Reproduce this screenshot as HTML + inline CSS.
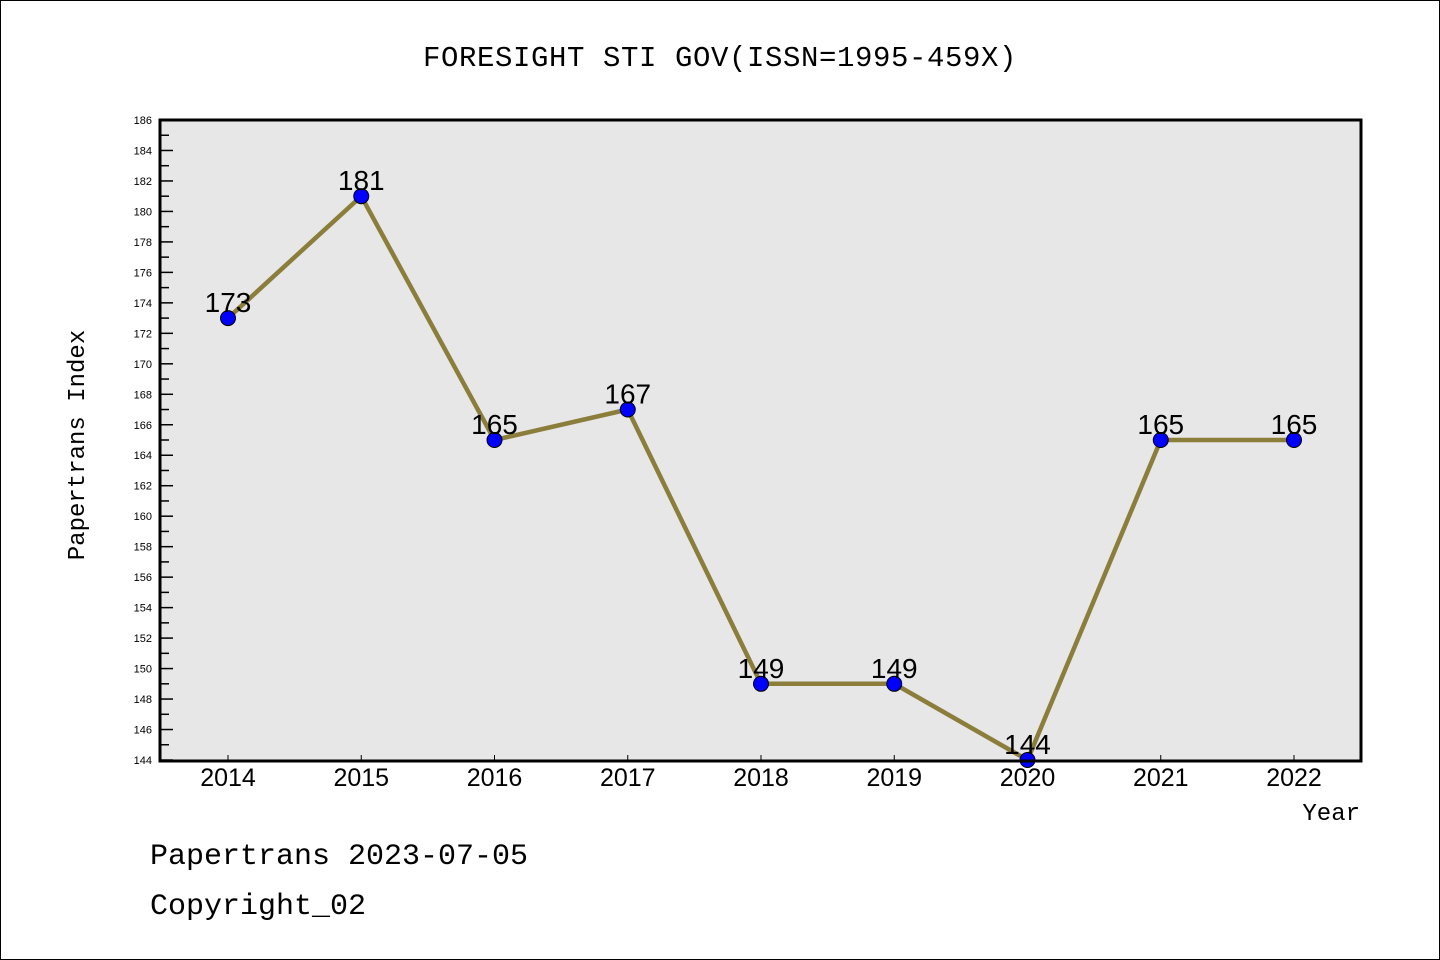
<!DOCTYPE html>
<html><head><meta charset="utf-8"><style>
html,body{margin:0;padding:0;background:#fff}
svg{display:block}
text{font-family:"Liberation Mono","DejaVu Sans Mono",monospace}
.sans{font-family:"Liberation Sans","DejaVu Sans",sans-serif}
</style></head><body>
<svg id="chart" width="1440" height="960">
<rect x="0.5" y="0.5" width="1439" height="959" fill="#fff" stroke="#000"/>
<text x="720" y="66" text-anchor="middle" font-size="29" letter-spacing="0.6">FORESIGHT STI GOV(ISSN=1995-459X)</text>
<rect x="160" y="120" width="1201" height="641" fill="#e7e7e7"/>
<g id="yaxis"></g>
<g id="xaxis"></g>
<g id="series"></g>
<rect x="160" y="120" width="1201" height="641" fill="none" stroke="#000" stroke-width="3"/>
<text x="84" y="445" text-anchor="middle" font-size="24" transform="rotate(-90 84 445)">Papertrans Index</text>
<text x="1360" y="820" text-anchor="end" font-size="24">Year</text>
<text x="150" y="864" font-size="30">Papertrans 2023-07-05</text>
<text x="150" y="914" font-size="30">Copyright_02</text>
</svg>
<script>
const years = ["2014","2015","2016","2017","2018","2019","2020","2021","2022"];
const values = [173,181,165,167,149,149,144,165,165];
const yMin = 144, yMax = 186;
const NS="http://www.w3.org/2000/svg";
const x0=228, xStep=(1294-228)/8;
const xs=i=>x0+i*xStep;
const ys=v=>760-(v-yMin)*(640/(yMax-yMin));
function mk(tag,attrs,parent){const e=document.createElementNS(NS,tag);for(const k in attrs)e.setAttribute(k,attrs[k]);parent.appendChild(e);return e;}
const ya=document.getElementById('yaxis');
for(let v=yMin;v<=yMax;v++){
  const y=ys(v);
  const major=(v%2===0);
  const t=mk('line',{x1:160,x2:major?173:169,y1:y,y2:y,stroke:'#000','stroke-width':1.5},ya);
  
  
  if(major){
    const l=mk('text',{x:152,y:y+4,'text-anchor':'end','font-size':11,'class':'sans'},ya);
    l.textContent=v;
    
    
  }
}
const xa=document.getElementById('xaxis');
years.forEach((yr,i)=>{
  const x=xs(i);
  const t=mk('line',{x1:x,x2:x,y1:755,y2:761,stroke:'#000','stroke-width':1},xa);
  
  
  const l=mk('text',{x:x,y:786,'text-anchor':'middle','font-size':25,'class':'sans'},xa);
  l.textContent=yr;
  
  
});
const sg=document.getElementById('series');
const pl=mk('polyline',{points:values.map((v,i)=>xs(i)+','+ys(v)).join(' '),fill:'none',stroke:'#8b7d3a','stroke-width':4.5},sg);


values.forEach((v,i)=>{
  const c=mk('circle',{cx:xs(i),cy:ys(v),r:7.5,fill:'#0000ff',stroke:'#000','stroke-width':1},sg);
  
  
  const l=mk('text',{x:xs(i),y:ys(v)-6,'text-anchor':'middle','font-size':28,'class':'sans'},sg);
  l.textContent=v;
  
  
});
</script>
</body></html>
